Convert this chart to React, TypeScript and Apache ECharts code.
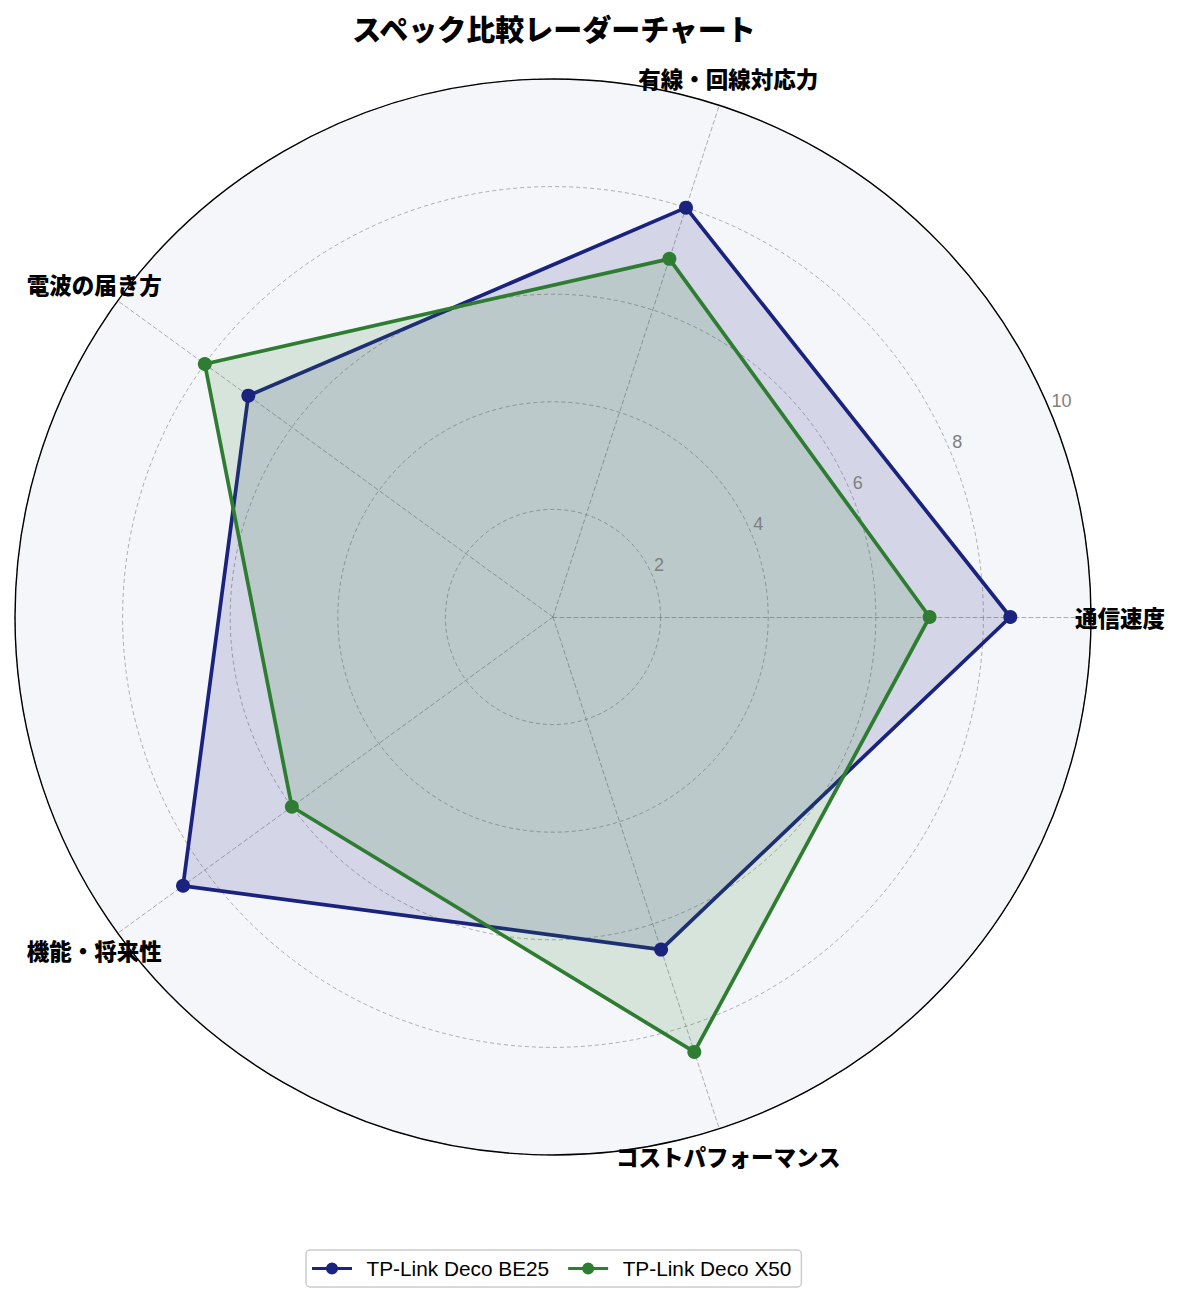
import { useEffect, useRef } from "react";
import * as echarts from "echarts";

const categories = ["通信速度", "有線・回線対応力", "電波の届き方", "機能・将来性", "コストパフォーマンス"];
const seriesNames = ["TP-Link Deco BE25", "TP-Link Deco X50"];
const be25Values = [8.5, 8, 7, 8.5, 6.5];
const x50Values = [7, 7, 8, 6, 8.5];
const tickValues = [2, 4, 6, 8, 10];
const colors = ["#1a237e", "#2e7d32"];

const JP = "'Noto Sans CJK JP', 'Noto Sans', sans-serif";
const LATIN = "'Liberation Sans', Arial, sans-serif";
const CENTER = [553, 617];
const RADIUS = 538;
const NAME_RADIUS = 10.54;
const TICK_ANGLE = 22.5;

// line + dot icon for legend
const legendIcon = "path://M0,4.5 H40 V7.5 H0 Z M20,0 A6,6 0 1 1 20,12 A6,6 0 1 1 20,0 Z";

export default function App(): JSX.Element {
  const chartRef = useRef<HTMLDivElement>(null);
  useEffect(() => {
    const chart = echarts.init(chartRef.current, null, { renderer: "svg" });
    const angles = categories.map((_, i) => (i * 360) / categories.length);
    const grayDash = { color: "#9a9a9a", width: 0.8, type: [4, 3] as number[] };
    const hiddenPoint = { color: "rgba(0,0,0,0)", opacity: 1 };
    const option = {
      animation: false,
      title: {
        text: "スペック比較レーダーチャート",
        left: 549,
        top: 8,
        textAlign: "center",
        textStyle: { fontSize: 29, fontWeight: 900, fontFamily: JP, color: "#000" },
      },
      legend: {
        data: seriesNames,
        left: 306,
        top: 1250,
        padding: [8, 10, 8, 6],
        itemGap: 19,
        itemWidth: 41,
        itemHeight: 12,
        icon: legendIcon,
        borderColor: "#cccccc",
        borderWidth: 1.5,
        borderRadius: 4,
        textStyle: { fontSize: 20.8, fontFamily: LATIN, color: "#000", padding: [0, 0, 0, 9] },
      },
      radar: {
        center: CENTER,
        radius: RADIUS,
        startAngle: 0,
        shape: "circle",
        splitNumber: 5,
        indicator: categories.map((name) => ({ name, min: 0, max: 10 })),
        axisName: { show: false },
        axisLine: { lineStyle: grayDash },
        splitLine: { lineStyle: grayDash },
        splitArea: { areaStyle: { color: ["#f5f6fa"] } },
        axisTick: { show: false },
        axisLabel: { show: false },
      },
      polar: { center: CENTER, radius: RADIUS },
      angleAxis: {
        type: "value",
        min: 0,
        max: 360,
        startAngle: 0,
        clockwise: false,
        z: 3,
        axisLine: { show: true, lineStyle: { color: "#000", width: 1.4 } },
        axisTick: { show: false },
        axisLabel: { show: false },
        splitLine: { show: false },
      },
      radiusAxis: { min: 0, max: 10, show: false },
      series: [
        {
          type: "radar",
          symbol: "circle",
          symbolSize: 14,
          data: [be25Values, x50Values].map((vals, k) => ({
            name: seriesNames[k],
            value: vals,
            lineStyle: { color: colors[k], width: 3.7 },
            itemStyle: { color: colors[k] },
            areaStyle: { color: colors[k], opacity: 0.15 },
          })),
        },
        {
          type: "scatter",
          coordinateSystem: "polar",
          silent: true,
          clip: false,
          symbolSize: 1,
          itemStyle: hiddenPoint,
          z: 5,
          data: angles.map((a) => [NAME_RADIUS, a]),
          label: {
            show: true,
            position: [0.5, 0.5],
            align: "center",
            verticalAlign: "middle",
            formatter: (p: any) => categories[p.dataIndex],
            fontSize: 22.5,
            fontWeight: 900,
            fontFamily: JP,
            color: "#000000",
            textBorderWidth: 0,
          },
        },
        {
          type: "scatter",
          coordinateSystem: "polar",
          silent: true,
          clip: false,
          symbolSize: 1,
          itemStyle: hiddenPoint,
          z: 5,
          data: tickValues.map((t) => [t, TICK_ANGLE]),
          label: {
            show: true,
            position: [2, -1],
            align: "left",
            verticalAlign: "bottom",
            formatter: (p: any) => String(tickValues[p.dataIndex]),
            fontSize: 18,
            fontFamily: LATIN,
            color: "#808080",
            textBorderWidth: 0,
          },
        },
      ],
    };
    chart.setOption(option as any);
    return () => {
      chart.dispose();
    };
  }, []);

  return (
    <div
      ref={chartRef}
      style={{ position: "absolute", left: 0, top: 0, width: 1181, height: 1300, background: "#fff" }}
    ></div>
  );
}
